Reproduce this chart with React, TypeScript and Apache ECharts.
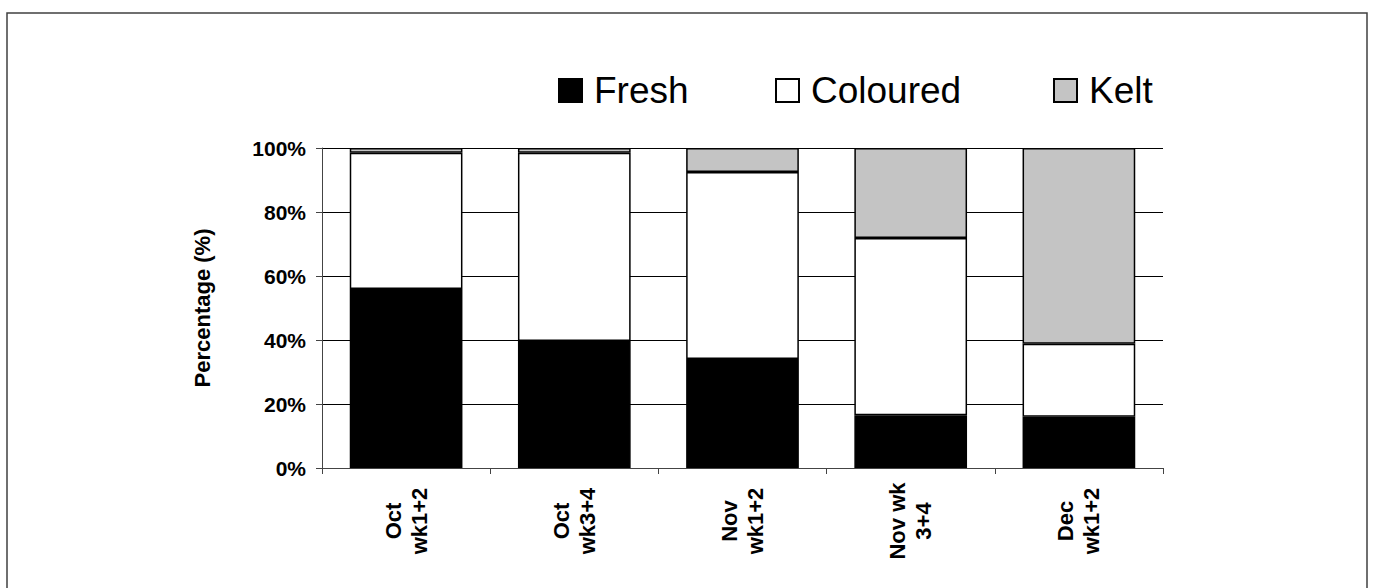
import React, { useEffect, useRef } from "react";
import * as echarts from "echarts";

const categories = ["Oct\nwk1+2", "Oct\nwk3+4", "Nov\nwk1+2", "Nov wk\n3+4", "Dec\nwk1+2"];
const freshValues = [55.9, 39.7, 34.1, 16.5, 16.0];
const colouredValues = [42.6, 58.8, 58.4, 55.4, 22.8];
const keltValues = [1.5, 1.5, 7.5, 28.1, 61.2];
const yTicks = [0, 20, 40, 60, 80, 100];
const legendNames = ["Fresh", "Coloured", "Kelt"];
const legendLefts = [553, 770, 1048];

const FONT = "'Liberation Sans', Arial, Helvetica, sans-serif";

export default function App() {
  const ref = useRef<HTMLDivElement>(null);
  useEffect(() => {
    if (!ref.current) return;
    const chart = echarts.init(ref.current, null, { renderer: "svg" });
    const barBorder = { borderColor: "#000", borderWidth: 1.5 };
    chart.setOption({
      animation: false,
      backgroundColor: "#fff",
      textStyle: { fontFamily: FONT },
      graphic: [
        {
          type: "rect",
          shape: { x: 7, y: 13, width: 1360, height: 600 },
          style: { fill: "none", stroke: "#404040", lineWidth: 1.5 },
          silent: true,
        },
      ],
      legend: legendNames.map((n, i) => ({
        left: legendLefts[i],
        top: 67,
        itemWidth: 23,
        itemHeight: 23,
        icon: "rect",
        textStyle: { fontSize: 37, fontFamily: FONT, color: "#000", padding: [0, 0, 0, 7] },
        data: [{ name: n, icon: "rect" }],
      })),
      grid: { left: 322, right: 210, top: 148, bottom: 120, containLabel: false },
      xAxis: {
        type: "category",
        data: categories,
        boundaryGap: true,
        axisLine: { lineStyle: { color: "#444", width: 1 } },
        axisTick: { show: true, length: 6, lineStyle: { color: "#444" } },
        axisLabel: {
          rotate: 90,
          align: "center",
          verticalAlign: "middle",
          margin: 53,
          fontSize: 22,
          fontWeight: "bold",
          color: "#000",
          lineHeight: 26,
          padding: [0, 0, 12, 0],
          fontFamily: FONT,
        },
      },
      yAxis: {
        type: "value",
        min: 0,
        max: 100,
        interval: 20,
        name: "Percentage (%)",
        nameLocation: "middle",
        nameGap: 109,
        nameTextStyle: { fontSize: 22, fontWeight: "bold", color: "#000", fontFamily: FONT },
        axisLine: { show: true, lineStyle: { color: "#444", width: 1 } },
        axisTick: { show: true, length: 6, lineStyle: { color: "#444" } },
        axisLabel: {
          formatter: (v: number) => (yTicks.includes(v) ? v + "%" : ""),
          fontSize: 21,
          fontWeight: "bold",
          color: "#000",
          margin: 16,
          fontFamily: FONT,
        },
        splitLine: { show: true, lineStyle: { color: "#000", width: 1 } },
      },
      series: [
        {
          name: "Fresh",
          type: "bar",
          stack: "total",
          barWidth: "67%",
          data: freshValues,
          itemStyle: { color: "#000", ...barBorder },
        },
        {
          name: "Coloured",
          type: "bar",
          stack: "total",
          barWidth: "67%",
          data: colouredValues,
          itemStyle: { color: "#fff", ...barBorder },
        },
        {
          name: "Kelt",
          type: "bar",
          stack: "total",
          barWidth: "67%",
          data: keltValues,
          itemStyle: { color: "#c4c4c4", ...barBorder },
        },
      ],
    });
    return () => chart.dispose();
  }, []);
  return (
    <div
      ref={ref}
      style={{ position: "fixed", left: 0, top: 0, width: 1373, height: 588 }}
    />
  );
}
